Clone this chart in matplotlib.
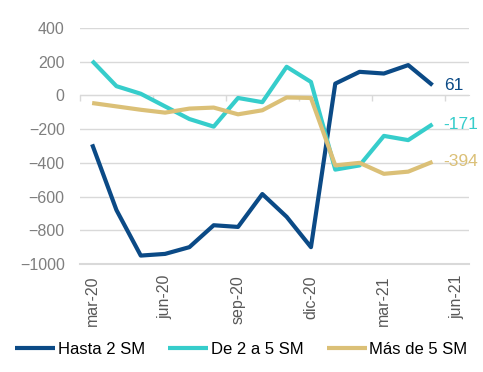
import matplotlib

matplotlib.use("Agg")
import matplotlib.pyplot as plt  # noqa: E402
from matplotlib.ticker import FixedLocator, NullLocator  # noqa: E402

plt.rcParams["font.family"] = ["Liberation Sans", "DejaVu Sans"]

MONTHS = ["mar-20", "abr-20", "may-20", "jun-20", "jul-20", "ago-20", "sep-20",
          "oct-20", "nov-20", "dic-20", "ene-21", "feb-21", "mar-21", "abr-21",
          "may-21", "jun-21"]
TICK_LABELS = ["mar-20", "jun-20", "sep-20", "dic-20", "mar-21", "jun-21"]

hasta_2 = [-290, -680, -950, -940, -900, -770, -780, -585, -720, -900,
           70, 140, 130, 180, 61]
de_2_a_5 = [205, 55, 10, -65, -140, -185, -15, -40, 170, 80,
            -440, -415, -240, -265, -171]
mas_de_5 = [-45, -65, -85, -102, -78, -72, -112, -88, -12, -15,
            -415, -400, -465, -452, -394]

SERIES = [
    ("Hasta 2 SM", hasta_2, "#0B4A86"),
    ("De 2 a 5 SM", de_2_a_5, "#36CDCB"),
    ("Más de 5 SM", mas_de_5, "#DBC077"),
]

fig = plt.figure(figsize=(4.83, 3.72), dpi=100)
ax = fig.add_axes([0.1656, 0.2903, 0.8054, 0.6344])

x = list(range(len(hasta_2)))
for name, vals, col in SERIES:
    ax.plot(x, vals, color=col, lw=3.0, label=name, solid_capstyle="butt")
    ax.annotate(f"{vals[-1]}", (x[-1], vals[-1]), xytext=(8, 0),
                textcoords="offset points", va="center", ha="left",
                color=col, fontsize=12.5)

ax.set_xlim(-0.5, len(MONTHS) - 0.5)
ax.set_ylim(-1000, 400)
ax.set_yticks(range(-1000, 401, 200))
ax.yaxis.grid(True, color="#D9D9D9", lw=1)
ax.set_axisbelow(True)
for s in ["top", "right", "left"]:
    ax.spines[s].set_visible(False)
ax.spines["bottom"].set_color("#D9D9D9")
ax.spines["bottom"].set_linewidth(1.5)

tick_pos = [MONTHS.index(m) for m in TICK_LABELS]
ax.set_xticks(tick_pos)
ax.set_xticklabels(TICK_LABELS, rotation=90)
ax.tick_params(axis="x", length=0, pad=8, labelsize=11.5, labelcolor="#595959")
ax.tick_params(axis="y", length=0, pad=11, labelsize=11.5, labelcolor="#7F7F7F")

# eje de categorías cruzando en 0, con marcas cada trimestre
sec = ax.secondary_xaxis(1000 / 1400)
sec.xaxis.set_major_locator(FixedLocator([p - 0.5 for p in tick_pos]))
sec.xaxis.set_minor_locator(NullLocator())
sec.xaxis.set_ticks_position("bottom")
sec.tick_params(which="both", direction="out", length=4, width=1, color="#D9D9D9",
                labelbottom=False, labeltop=False)
for s in sec.spines.values():
    s.set_color("#D9D9D9")

fig.legend(loc="lower center", bbox_to_anchor=(0.5, 0.0), ncol=3, frameon=False,
           fontsize=12, handlelength=2.4, columnspacing=1.4, handletextpad=0.15)

fig.savefig("out.png", dpi=100)
